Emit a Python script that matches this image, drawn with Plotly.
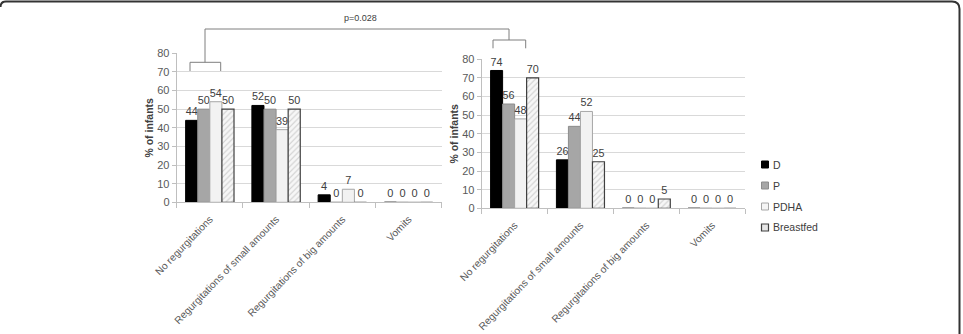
import plotly.graph_objects as go

W, H = 963, 334

categories = ["No regurgitations", "Regurgitations of small amounts",
              "Regurgitations of big amounts", "Vomits"]
series_names = ["D", "P", "PDHA", "Breastfed"]

left_D = [44, 52, 4, 0]
left_P = [50, 50, 0, 0]
left_PDHA = [54, 39, 7, 0]
left_BF = [50, 50, 0, 0]

right_D = [74, 26, 0, 0]
right_P = [56, 44, 0, 0]
right_PDHA = [48, 52, 0, 0]
right_BF = [70, 25, 5, 0]

y_ticks = [0, 10, 20, 30, 40, 50, 60, 70, 80]
p_text = "p=0.028"
FONT = "Liberation Sans"


def px(x):
    return x / W


def py(y):
    return 1 - y / H


styles = {
    "D": dict(color="#000000", line=dict(color="#000000", width=1)),
    "P": dict(color="#a6a6a6", line=dict(color="#8c8c8c", width=1)),
    "PDHA": dict(color="#f2f2f2", line=dict(color="#a6a6a6", width=1)),
    "Breastfed": dict(color="#ffffff", line=dict(color="#404040", width=1.2),
                      pattern=dict(shape="/", fgcolor="#a0a0a0", bgcolor="#f7f7f7",
                                   size=4, solidity=0.25)),
}
legend_fill = {"D": ("#000000", "#000000"), "P": ("#a6a6a6", "#8c8c8c"),
               "PDHA": ("#f5f5f5", "#a6a6a6"), "Breastfed": ("#e6e6e6", "#404040")}

fig = go.Figure()
left = [left_D, left_P, left_PDHA, left_BF]
right = [right_D, right_P, right_PDHA, right_BF]
for side, data, xa, ya in [("L", left, "x", "y"), ("R", right, "x2", "y2")]:
    for name, vals in zip(series_names, data):
        fig.add_trace(go.Bar(
            x=categories, y=vals, name=name, xaxis=xa, yaxis=ya,
            marker=styles[name], text=[str(v) for v in vals],
            textposition="outside", textangle=0, cliponaxis=False,
            textfont=dict(size=11, color="#404040", family=FONT),
            showlegend=False,
        ))

axis_common_x = dict(type="category", showgrid=False, showline=True, linecolor="#bfbfbf",
                     ticks="outside", tickson="boundaries", ticklen=5, tickcolor="#bfbfbf",
                     tickangle=-46, ticklabelstandoff=6,
                     tickfont=dict(size=10.2, color="#595959", family=FONT),
                     automargin=False, fixedrange=True)
axis_common_y = dict(range=[0, 80], tickvals=y_ticks, showgrid=True, gridcolor="#d9d9d9",
                     gridwidth=1, showline=True, linecolor="#bfbfbf", ticks="outside",
                     ticklen=4, tickcolor="#bfbfbf", zeroline=False,
                     tickfont=dict(size=11, color="#595959", family=FONT),
                     title=dict(text="<b>% of infants</b>", standoff=1,
                                font=dict(size=10.5, color="#404040", family=FONT)),
                     automargin=False, fixedrange=True)

fig.update_layout(
    width=W, height=H, margin=dict(l=0, r=0, t=0, b=0, autoexpand=False),
    paper_bgcolor="white", plot_bgcolor="white",
    barmode="group", bargap=0.27, bargroupgap=0,
    xaxis=dict(domain=[px(176.7), px(441.7)], anchor="y", **axis_common_x),
    yaxis=dict(domain=[py(202.3), py(53.3)], anchor="x", **axis_common_y),
    xaxis2=dict(domain=[px(481.7), px(745)], anchor="y2", **axis_common_x),
    yaxis2=dict(domain=[py(208.3), py(59.3)], anchor="x2", **axis_common_y),
    showlegend=False,
)

line_style = dict(color="#7f7f7f", width=1)
shapes = []
# left bracket
lx0, lx1, lmid = 190, 220.7, 205
shapes.append(dict(type="path", xref="paper", yref="paper",
                   path=f"M {px(lx0)},{py(71)} L {px(lx0)},{py(62.3)} L {px(lx1)},{py(62.3)} L {px(lx1)},{py(71)}",
                   line=line_style))
# right bracket
rx0, rx1, rmid = 493, 525.7, 509
shapes.append(dict(type="path", xref="paper", yref="paper",
                   path=f"M {px(rx0)},{py(48.3)} L {px(rx0)},{py(40)} L {px(rx1)},{py(40)} L {px(rx1)},{py(48.3)}",
                   line=line_style))
# connector
shapes.append(dict(type="path", xref="paper", yref="paper",
                   path=f"M {px(lmid)},{py(62.3)} L {px(lmid)},{py(29)} L {px(rmid)},{py(29)} L {px(rmid)},{py(40)}",
                   line=line_style))
# frame (top and right edges with rounded corners)
shapes.append(dict(type="path", xref="paper", yref="paper",
                   path=(f"M {px(0.5)},{py(7)} Q {px(0.5)},{py(1.5)} {px(6)},{py(1.5)} "
                         f"L {px(952)},{py(1.5)} Q {px(959.5)},{py(1.5)} {px(959.5)},{py(9)} "
                         f"L {px(959.5)},{py(334)}"),
                   line=dict(color="#333333", width=2)))

# manual legend
leg_x, leg_y0, leg_dy, sq = 765, 164.5, 21, 7
for i, name in enumerate(series_names):
    cy = leg_y0 + i * leg_dy
    fill, edge = legend_fill[name]
    shapes.append(dict(type="rect", xref="paper", yref="paper",
                       x0=px(leg_x - sq / 2), x1=px(leg_x + sq / 2),
                       y0=py(cy + sq / 2), y1=py(cy - sq / 2),
                       fillcolor=fill, line=dict(color=edge, width=1.2 if name == "Breastfed" else 1)))
    fig.add_annotation(x=px(leg_x + 6), y=py(cy), xref="paper", yref="paper", text=name,
                       xanchor="left", yanchor="middle", showarrow=False,
                       font=dict(size=10.5, color="#404040", family=FONT))

fig.update_layout(shapes=shapes)

fig.add_annotation(x=px(360), y=py(18.5), xref="paper", yref="paper", text=p_text,
                   yanchor="middle", showarrow=False,
                   font=dict(size=9, color="#404040", family=FONT))

fig.write_html("out.html")
